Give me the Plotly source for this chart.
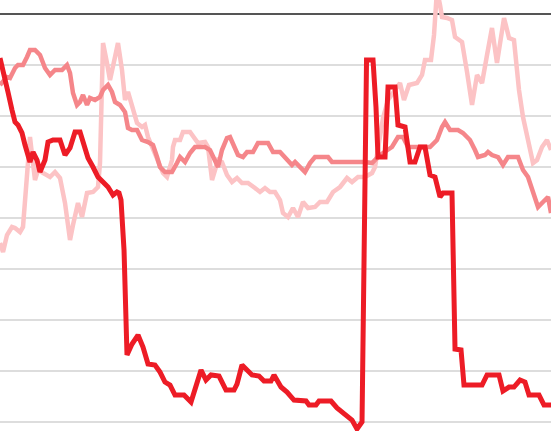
import plotly.graph_objects as go

# Series 1 (dark red)
dark_t = [0, 0.91, 1.45, 2.18, 2.73, 3.27, 4.0, 4.55, 5.45, 6.0, 6.73, 7.27, 8.18, 8.73, 9.64, 10.91,
          11.82, 12.73, 13.64, 14.55, 15.45, 16.0, 16.91, 17.82, 18.73, 19.64, 20.55, 21.27, 21.64,
          22.0, 22.55, 23.09, 24.0, 25.09, 26.0, 26.91, 28.18, 29.09, 30.0, 30.91, 31.82, 33.45,
          34.73, 35.64, 36.55, 37.45, 38.36, 39.82, 41.09, 42.55, 43.09, 44.0, 45.82, 47.09, 48.0,
          49.27, 49.82, 51.09, 52.18, 53.45, 55.64, 56.18, 57.45, 58.0, 60.18, 61.27, 63.09, 64.0,
          64.91, 65.82, 66.64, 67.82, 68.36, 68.73, 70.0, 70.55, 71.82, 72.36, 73.64, 74.55, 75.45,
          76.36, 77.27, 78.18, 79.09, 80.0, 80.55, 82.18, 82.73, 83.82, 84.36, 87.64, 88.55, 90.73,
          91.45, 92.55, 93.45, 94.55, 95.45, 96.18, 98.0, 98.91, 100.18]
dark_v = [8.63, 12.35, 15.29, 18.82, 21.18, 21.76, 23.33, 25.69, 29.02, 27.06, 28.63, 30.98, 28.63,
          25.10, 24.71, 24.71, 27.65, 26.27, 23.14, 23.14, 26.67, 28.24, 30.0, 31.96, 32.94, 33.92,
          35.49, 34.90, 35.10, 36.47, 46.27, 66.86, 64.71, 62.94, 65.29, 68.63, 68.82, 70.20, 72.16,
          72.75, 74.71, 74.71, 76.08, 72.75, 69.80, 71.76, 70.78, 70.98, 73.73, 73.73, 72.55, 68.82,
          70.78, 70.98, 71.96, 71.96, 70.78, 73.14, 74.12, 75.69, 75.88, 76.67, 76.67, 75.88, 75.88,
          77.25, 78.63, 79.61, 81.37, 80.0, 9.02, 9.02, 18.24, 28.04, 28.04, 14.31, 14.31, 21.76,
          22.16, 29.02, 29.02, 26.08, 26.08, 31.57, 31.96, 35.88, 35.10, 35.10, 65.69, 65.88, 72.75,
          72.75, 70.78, 70.78, 73.92, 73.14, 73.14, 71.76, 72.16, 74.71, 74.71, 76.67, 76.67]

# Series 2 (medium pink)
mid_t = [0, 1.27, 1.82, 2.73, 3.27, 4.18, 4.91, 5.45, 6.36, 7.27, 8.18, 9.09, 10.0, 11.27, 12.18,
         12.73, 13.27, 14.0, 14.55, 15.09, 15.82, 16.36, 17.27, 18.18, 18.73, 19.64, 20.36, 20.91,
         21.82, 22.73, 23.27, 24.0, 24.91, 25.82, 26.91, 27.82, 28.55, 29.09, 30.0, 31.27, 32.18,
         32.73, 33.64, 34.55, 35.45, 37.27, 38.18, 39.09, 39.64, 40.36, 41.27, 41.82, 42.36, 43.27,
         44.18, 44.91, 46.0, 46.91, 48.73, 49.64, 50.91, 52.18, 53.09, 53.64, 54.55, 55.45, 56.36,
         57.27, 59.64, 60.36, 66.36, 67.64, 68.55, 69.64, 71.27, 72.36, 73.27, 74.18, 78.18, 79.45,
         80.36, 80.91, 81.82, 83.27, 84.18, 85.45, 86.36, 86.91, 88.18, 88.73, 89.45, 90.55, 91.45,
         92.36, 94.18, 95.09, 96.0, 96.91, 97.82, 98.73, 99.64, 100.18]
mid_v = [13.92, 12.35, 12.55, 10.59, 10.0, 10.0, 8.43, 7.06, 7.06, 8.04, 10.59, 11.96, 10.98, 10.98,
         10.0, 11.57, 15.49, 17.84, 17.25, 15.88, 17.84, 16.47, 16.86, 16.27, 14.90, 13.92, 15.29,
         17.25, 17.84, 19.22, 22.35, 22.75, 22.75, 24.71, 25.10, 25.69, 28.04, 30.0, 30.98, 30.98,
         29.22, 28.04, 29.02, 27.25, 26.08, 26.08, 26.67, 28.63, 30.0, 26.67, 24.31, 24.12, 25.29,
         27.65, 28.04, 27.06, 27.06, 25.29, 25.29, 27.06, 27.06, 28.63, 29.61, 29.02, 30.0, 30.98,
         29.22, 28.04, 28.04, 29.02, 29.02, 29.22, 28.24, 27.25, 26.08, 24.12, 24.12, 26.08, 26.08,
         24.71, 22.16, 21.18, 22.75, 22.75, 23.33, 24.71, 26.67, 28.04, 27.65, 27.06, 27.65, 28.04,
         29.61, 28.04, 28.04, 30.59, 31.96, 35.10, 37.84, 36.86, 35.88, 39.02]

# Series 3 (light pink)
light_t = [0, 0.55, 1.27, 2.18, 2.73, 3.64, 4.18, 4.91, 5.45, 6.0, 6.36, 6.91, 7.82, 9.09, 10.0,
           10.91, 11.82, 12.73, 13.27, 14.18, 14.91, 15.82, 16.91, 17.82, 18.18, 18.55, 18.73,
           19.45, 20.0, 20.91, 21.45, 22.18, 22.73, 23.27, 24.0, 24.91, 25.82, 26.36, 26.91, 27.82,
           28.73, 29.64, 30.36, 31.27, 31.45, 31.82, 32.73, 33.27, 34.55, 35.45, 36.0, 37.27, 37.82,
           38.55, 39.09, 39.64, 40.36, 41.27, 42.18, 43.09, 44.0, 45.09, 46.36, 47.27, 48.18, 49.09,
           50.0, 50.91, 51.45, 52.36, 53.27, 54.18, 55.09, 56.0, 57.27, 58.18, 59.45, 60.55, 61.82,
           63.09, 64.0, 65.09, 66.36, 67.64, 68.18, 68.73, 69.64, 70.55, 71.82, 72.73, 73.45, 74.36,
           75.82, 76.73, 77.27, 78.36, 78.91, 79.45, 80.0, 80.36, 81.27, 82.18, 82.73, 84.0, 84.91,
           85.82, 86.73, 87.64, 88.55, 89.45, 90.36, 91.64, 92.55, 93.45, 94.36, 95.09, 96.0, 96.91,
           97.64, 98.55, 99.45, 100.18]
light_v = [44.90, 46.67, 43.33, 41.76, 41.96, 42.75, 41.76, 31.96, 24.12, 29.22, 32.55, 30.59, 31.18,
           31.96, 30.98, 32.16, 37.06, 44.31, 41.37, 37.06, 39.80, 35.10, 34.90, 33.92, 29.22, 16.27,
           5.69, 9.61, 12.94, 8.43, 5.69, 10.98, 16.86, 15.29, 18.24, 21.37, 22.16, 21.76, 24.12,
           26.67, 29.02, 31.18, 31.96, 28.63, 26.08, 24.71, 24.71, 23.14, 23.14, 24.31, 25.29, 25.10,
           26.08, 32.55, 30.59, 28.63, 29.02, 31.57, 32.94, 32.16, 33.14, 33.14, 34.12, 34.90, 34.12,
           34.90, 34.90, 36.47, 39.02, 39.80, 38.04, 39.80, 36.86, 38.04, 37.84, 36.86, 36.86, 34.90,
           33.92, 32.16, 32.94, 31.96, 31.96, 31.18, 30.0, 26.67, 20.39, 16.86, 14.90, 13.53, 16.86,
           13.92, 13.53, 11.96, 9.02, 9.02, 4.12, -4.71, -1.76, 0.59, 0.78, 1.18, 4.51, 5.49, 11.37,
           17.84, 11.96, 13.53, 8.04, 2.75, 9.61, 0.78, 4.71, 5.10, 14.90, 20.20, 24.71, 29.22, 28.63,
           26.08, 24.71, 26.67]

fig = go.Figure()
fig.add_trace(go.Scatter(x=light_t, y=light_v, mode="lines",
                         line=dict(color="#fcc3c5", width=4.5), hoverinfo="skip"))
fig.add_trace(go.Scatter(x=mid_t, y=mid_v, mode="lines",
                         line=dict(color="#f5868a", width=4.5), hoverinfo="skip"))
fig.add_trace(go.Scatter(x=dark_t, y=dark_v, mode="lines",
                         line=dict(color="#ed1c26", width=5), hoverinfo="skip"))

fig.update_layout(
    width=551, height=431,
    margin=dict(l=0, r=0, t=0, b=0),
    paper_bgcolor="white", plot_bgcolor="white",
    showlegend=False,
    xaxis=dict(range=[0, 100.18], showgrid=False, zeroline=False,
               showticklabels=False, showline=False, ticks=""),
    yaxis=dict(range=[81.76, -2.745], dtick=10, tick0=0, showgrid=True,
               gridcolor="#dddddd", gridwidth=1.5, zeroline=True,
               zerolinecolor="#555555", zerolinewidth=1.5,
               showticklabels=False, showline=False, ticks=""),
)

fig.write_html(
    "out.html",
    config={"displayModeBar": False},
    post_script="document.body.style.margin='0';document.body.style.padding='0';"
                "document.body.style.overflow='hidden';",
)
